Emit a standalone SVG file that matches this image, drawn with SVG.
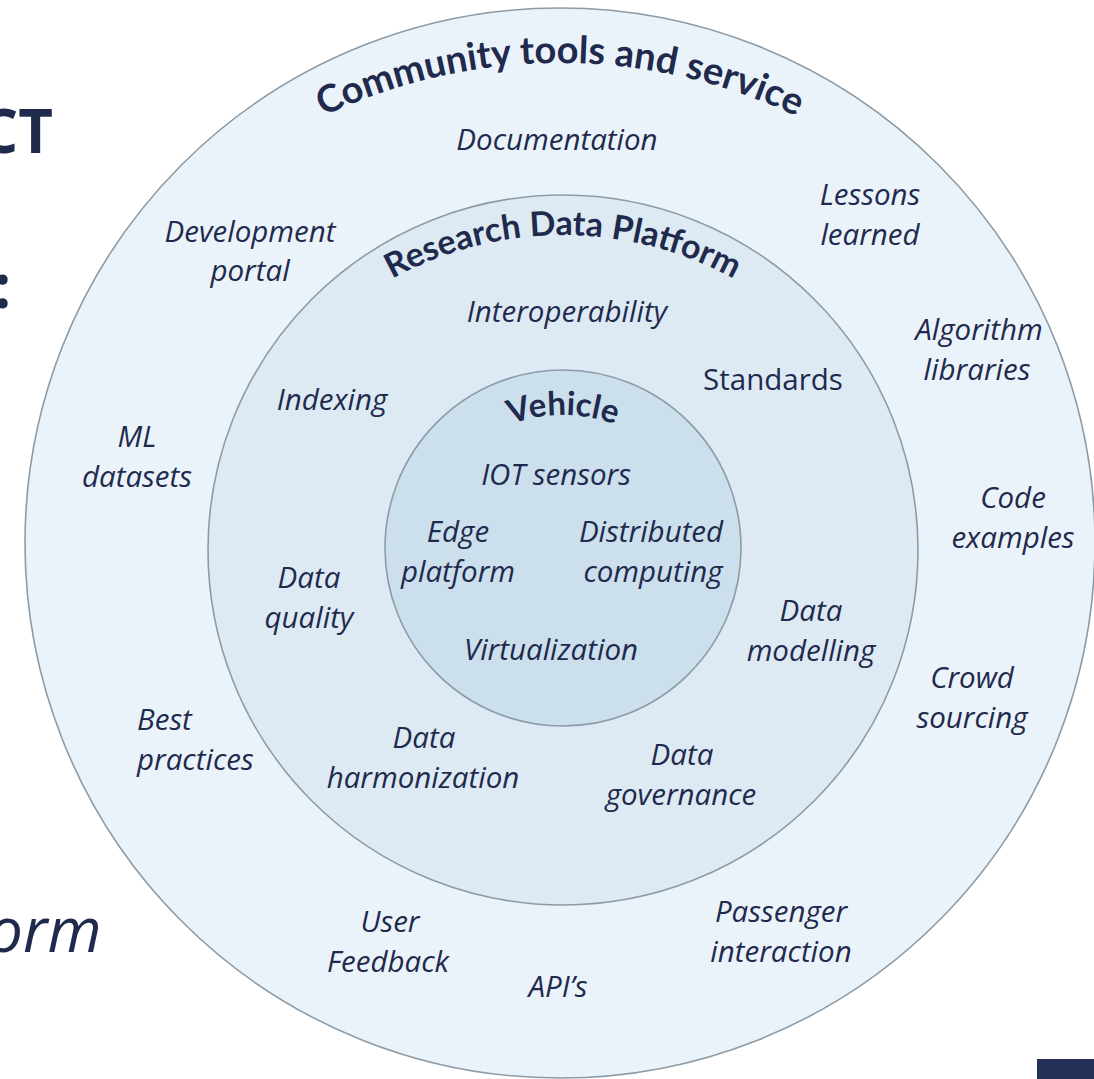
<svg xmlns="http://www.w3.org/2000/svg" width="1094" height="1079" viewBox="0 0 1094 1079">
<style>
.ring{stroke:#8C9BA6;stroke-width:1.6}
.t{font-family:"Open Sans",Lato,sans-serif;font-style:italic;font-size:29.5px;fill:#1F2A4D;text-anchor:middle}
.u{font-style:normal}
.h{font-family:Lato,"Open Sans",sans-serif;font-weight:bold;fill:#1F2A4D;text-anchor:middle}
.side{font-family:"Open Sans",Lato,sans-serif;fill:#1F2A4D}
</style>
<defs>
<path id="arcOuter" d="M 9,614 A 551 551 0 0 1 1111,614"/>
<path id="arcMid" d="M 208,590 A 355 355 0 0 1 918,590"/>
<path id="arcIn" d="M 413,565 A 150 150 0 0 1 713,565"/>
</defs>
<rect width="1094" height="1079" fill="#FFFFFF"/>
<g id="left-cut-text">
<text class="side" x="-20" y="153" font-size="60" font-weight="bold">CT</text>
<text class="side" x="-6" y="308" font-size="60" font-weight="bold">:</text>
<text class="side" x="-12" y="952" font-size="62" font-style="italic">orm</text>
</g>
<rect id="corner-bar" x="1037" y="1059" width="57" height="20" fill="#253158"/>
<g id="ring-community">
<circle class="ring" cx="560" cy="543" r="535" fill="#EBF3FA"/>
<text class="h" font-size="38"><textPath href="#arcOuter" startOffset="50%">Community tools and service</textPath></text>
<text class="t" x="557" y="150">Documentation</text>
<text class="t" x="250" y="242">Development</text>
<text class="t" x="250" y="281">portal</text>
<text class="t" x="870" y="205">Lessons</text>
<text class="t" x="870" y="245">learned</text>
<text class="t" x="979" y="340">Algorithm</text>
<text class="t" x="977" y="380">libraries</text>
<text class="t" x="137" y="447">ML</text>
<text class="t" x="137" y="487">datasets</text>
<text class="t" x="1013" y="508">Code</text>
<text class="t" x="1013" y="548">examples</text>
<text class="t" x="972" y="688">Crowd</text>
<text class="t" x="972" y="728">sourcing</text>
<text class="t" x="137" y="730" style="text-anchor:start">Best</text>
<text class="t" x="137" y="770" style="text-anchor:start">practices</text>
<text class="t" x="390" y="932">User</text>
<text class="t" x="388" y="972">Feedback</text>
<text class="t" x="781" y="922">Passenger</text>
<text class="t" x="781" y="962">interaction</text>
<text class="t" x="558" y="997">API’s</text>
</g>
<g id="ring-platform">
<circle class="ring" cx="563" cy="550" r="355" fill="#DDEAF4"/>
<text class="h" font-size="34"><textPath href="#arcMid" startOffset="50%">Research Data Platform</textPath></text>
<text class="t" x="567" y="322">Interoperability</text>
<text class="t u" x="773" y="390">Standards</text>
<text class="t" x="332" y="410">Indexing</text>
<text class="t" x="309" y="588">Data</text>
<text class="t" x="309" y="628">quality</text>
<text class="t" x="811" y="621">Data</text>
<text class="t" x="811" y="661">modelling</text>
<text class="t" x="424" y="748">Data</text>
<text class="t" x="423" y="788">harmonization</text>
<text class="t" x="682" y="765">Data</text>
<text class="t" x="681" y="805">governance</text>
</g>
<g id="ring-vehicle">
<circle class="ring" cx="563" cy="548" r="178" fill="#CBDFEC"/>
<text class="h" font-size="33"><textPath href="#arcIn" startOffset="50%">Vehicle</textPath></text>
<text class="t" x="556" y="485">IOT sensors</text>
<text class="t" x="458" y="542">Edge</text>
<text class="t" x="458" y="582">platform</text>
<text class="t" x="651" y="542">Distributed</text>
<text class="t" x="653" y="582">computing</text>
<text class="t" x="551" y="660">Virtualization</text>
</g>
<g id="connectors"></g>
</svg>
